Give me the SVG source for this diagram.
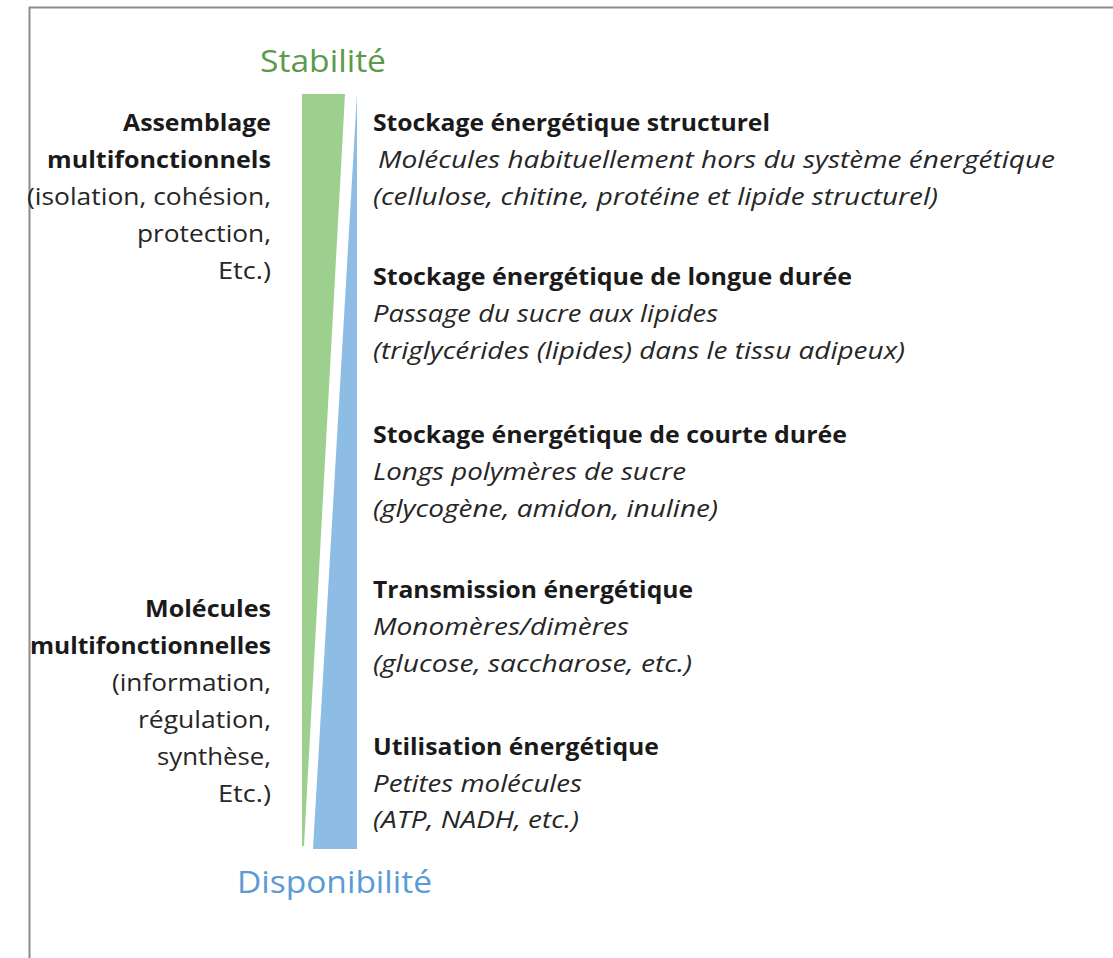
<svg xmlns="http://www.w3.org/2000/svg" width="1113" height="958" viewBox="0 0 1113 958">
<style>
text{font-family:"Open Sans","Noto Sans","Liberation Sans",sans-serif;font-size:23px;fill:#1a1a1a}
.b{font-weight:bold}
.i{font-style:italic;fill:#262626}
.l{fill:#262626}
.t{font-size:31px}
</style>
<rect width="1113" height="958" fill="#ffffff"/>
<path d="M29.5 958 V7.5 H1113" fill="none" stroke="#8c8c8c" stroke-width="2"/>
<g id="bars">
<polygon points="302,94 345,94 304,846 302,846" fill="#9dd08f"/>
<polygon points="357,94 357,849 313,849" fill="#8dbde5"/>
</g>
<g id="stabilite"><text class="t" x="260" y="72" textLength="126" lengthAdjust="spacingAndGlyphs" style="fill:#5a9a4a">Stabilité</text></g>
<g id="disponibilite"><text class="t" x="237" y="893" textLength="195" lengthAdjust="spacingAndGlyphs" style="fill:#5b9bd5">Disponibilité</text></g>
<g id="assemblage">
<text class="b" x="123" y="131" textLength="148" lengthAdjust="spacingAndGlyphs">Assemblage</text>
<text class="b" x="47" y="168" textLength="224" lengthAdjust="spacingAndGlyphs">multifonctionnels</text>
<text class="l" x="27" y="205" textLength="244" lengthAdjust="spacingAndGlyphs">(isolation, cohésion,</text>
<text class="l" x="137" y="242" textLength="134" lengthAdjust="spacingAndGlyphs">protection,</text>
<text class="l" x="218" y="279" textLength="53" lengthAdjust="spacingAndGlyphs">Etc.)</text>
</g>
<g id="molecules">
<text class="b" x="145" y="617" textLength="126" lengthAdjust="spacingAndGlyphs">Molécules</text>
<text class="b" x="30" y="654" textLength="241" lengthAdjust="spacingAndGlyphs">multifonctionnelles</text>
<text class="l" x="112" y="691" textLength="159" lengthAdjust="spacingAndGlyphs">(information,</text>
<text class="l" x="138" y="728" textLength="133" lengthAdjust="spacingAndGlyphs">régulation,</text>
<text class="l" x="157" y="765" textLength="114" lengthAdjust="spacingAndGlyphs">synthèse,</text>
<text class="l" x="218" y="802" textLength="53" lengthAdjust="spacingAndGlyphs">Etc.)</text>
</g>
<g id="structurel">
<text class="b" x="373" y="131" textLength="397" lengthAdjust="spacingAndGlyphs">Stockage énergétique structurel</text>
<text class="i" x="378" y="168" textLength="677" lengthAdjust="spacingAndGlyphs">Molécules habituellement hors du système énergétique</text>
<text class="i" x="373" y="205" textLength="565" lengthAdjust="spacingAndGlyphs">(cellulose, chitine, protéine et lipide structurel)</text>
</g>
<g id="longue">
<text class="b" x="373" y="285" textLength="479" lengthAdjust="spacingAndGlyphs">Stockage énergétique de longue durée</text>
<text class="i" x="373" y="322" textLength="345" lengthAdjust="spacingAndGlyphs">Passage du sucre aux lipides</text>
<text class="i" x="373" y="359" textLength="532" lengthAdjust="spacingAndGlyphs">(triglycérides (lipides) dans le tissu adipeux)</text>
</g>
<g id="courte">
<text class="b" x="373" y="443" textLength="474" lengthAdjust="spacingAndGlyphs">Stockage énergétique de courte durée</text>
<text class="i" x="373" y="480" textLength="313" lengthAdjust="spacingAndGlyphs">Longs polymères de sucre</text>
<text class="i" x="373" y="517" textLength="345" lengthAdjust="spacingAndGlyphs">(glycogène, amidon, inuline)</text>
</g>
<g id="transmission">
<text class="b" x="373" y="598" textLength="320" lengthAdjust="spacingAndGlyphs">Transmission énergétique</text>
<text class="i" x="373" y="635" textLength="256" lengthAdjust="spacingAndGlyphs">Monomères/dimères</text>
<text class="i" x="373" y="672" textLength="319" lengthAdjust="spacingAndGlyphs">(glucose, saccharose, etc.)</text>
</g>
<g id="utilisation">
<text class="b" x="373" y="755" textLength="286" lengthAdjust="spacingAndGlyphs">Utilisation énergétique</text>
<text class="i" x="373" y="792" textLength="209" lengthAdjust="spacingAndGlyphs">Petites molécules</text>
<text class="i" x="373" y="828" textLength="206" lengthAdjust="spacingAndGlyphs">(ATP, NADH, etc.)</text>
</g>
</svg>
